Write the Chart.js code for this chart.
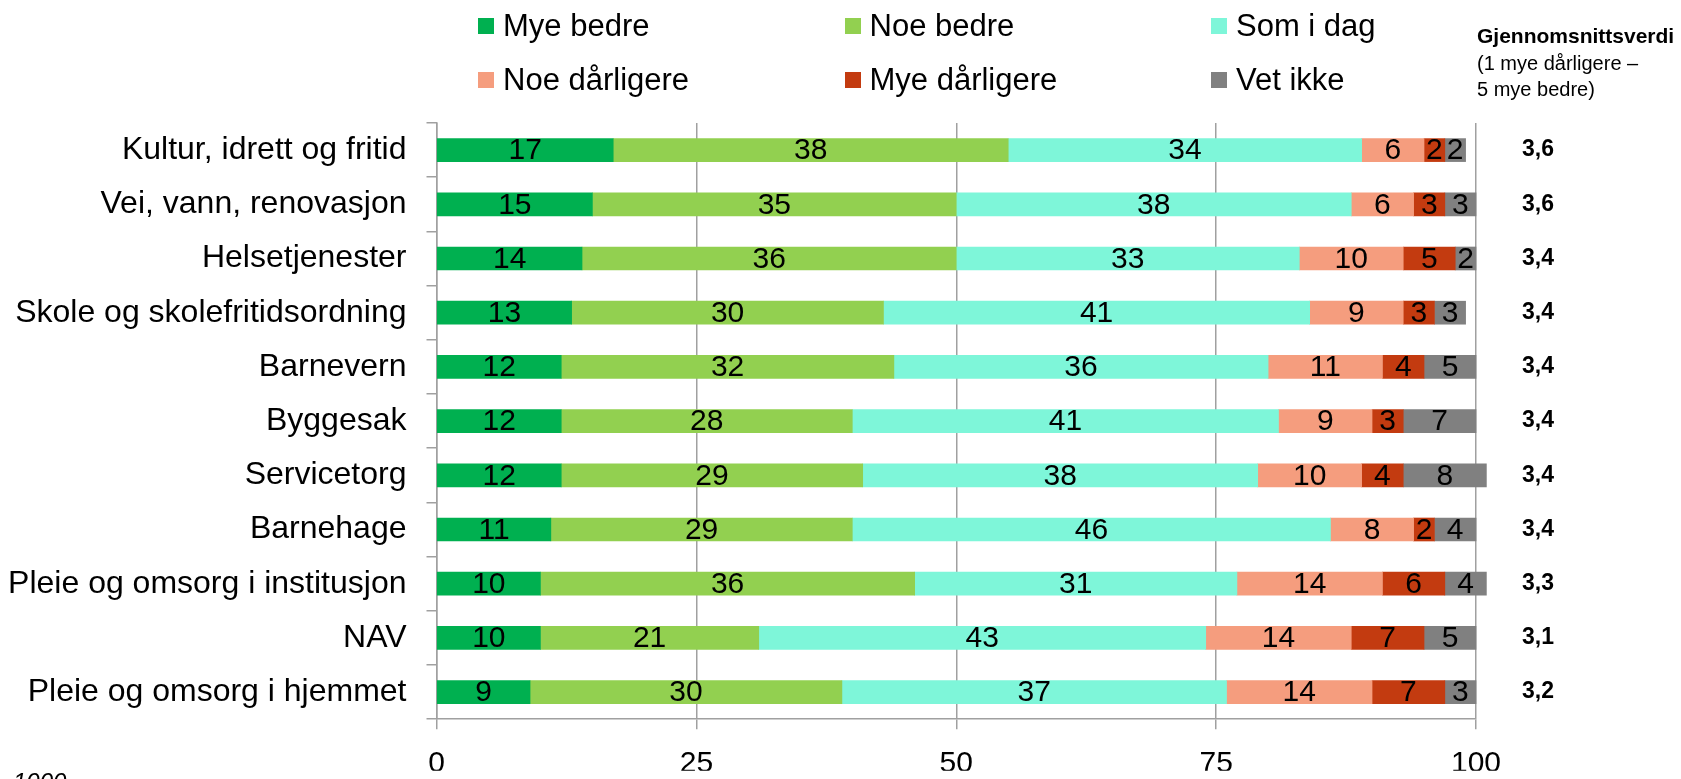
<!DOCTYPE html>
<html>
<head>
<meta charset="utf-8">
<script src="https://cdn.jsdelivr.net/npm/chart.js@4/dist/chart.umd.min.js"></script>
<style>
  html, body { margin:0; padding:0; background:#fff; overflow:hidden; }
  body { width:1681px; height:779px; position:relative; font-family:"Liberation Sans", Arial, sans-serif; }
  #wrap { position:absolute; left:0; top:0; width:1681px; height:779px; }
  .lg { position:absolute; height:40px; display:flex; align-items:center; font-size:31px; color:#000; white-space:nowrap; }
  .lg .box { width:16px; height:16px; margin-right:9px; flex:none; }
  #hdr { position:absolute; left:1477px; top:23px; line-height:26.5px; font-size:20px; color:#000; white-space:nowrap; }
  #hdr b { font-size:21px; }
  #note { position:absolute; left:13px; top:770px; font-size:24px; line-height:24px; font-style:italic; color:#000; }
</style>
</head>
<body>
<div id="wrap"><canvas id="c" width="1681" height="779"></canvas></div>
<div id="legend"></div>
<div id="hdr"><b>Gjennomsnittsverdi</b><br>(1 mye dårligere –<br>5 mye bedre)</div>
<div id="note">1000</div>
<script>
const categories = [
  "Kultur, idrett og fritid",
  "Vei, vann, renovasjon",
  "Helsetjenester",
  "Skole og skolefritidsordning",
  "Barnevern",
  "Byggesak",
  "Servicetorg",
  "Barnehage",
  "Pleie og omsorg i institusjon",
  "NAV",
  "Pleie og omsorg i hjemmet"
];
const seriesNames = ["Mye bedre", "Noe bedre", "Som i dag", "Noe dårligere", "Mye dårligere", "Vet ikke"];
const myeBedre      = [17, 15, 14, 13, 12, 12, 12, 11, 10, 10, 9];
const noeBedre      = [38, 35, 36, 30, 32, 28, 29, 29, 36, 21, 30];
const somIDag       = [34, 38, 33, 41, 36, 41, 38, 46, 31, 43, 37];
const noeDarligere  = [6, 6, 10, 9, 11, 9, 10, 8, 14, 14, 14];
const myeDarligere  = [2, 3, 5, 3, 4, 3, 4, 2, 6, 7, 7];
const vetIkke       = [2, 3, 2, 3, 5, 7, 8, 4, 4, 5, 3];
const averages      = ["3,6", "3,6", "3,4", "3,4", "3,4", "3,4", "3,4", "3,4", "3,3", "3,1", "3,2"];
const xTicks        = [0, 25, 50, 75, 100];
const colors = ["#00B050", "#92D050", "#7EF6D9", "#F59D7E", "#C33B10", "#808080"];

const seriesValues = [myeBedre, noeBedre, somIDag, noeDarligere, myeDarligere, vetIkke];

Chart.defaults.font.family = '"Liberation Sans", Arial, sans-serif';
Chart.defaults.color = '#000';

const valueLabels = {
  id: 'valueLabels',
  afterDatasetsDraw(chart) {
    const ctx = chart.ctx;
    ctx.save();
    ctx.font = '30px "Liberation Sans", Arial, sans-serif';
    ctx.fillStyle = '#000';
    ctx.textAlign = 'center';
    ctx.textBaseline = 'middle';
    chart.data.datasets.forEach((ds, i) => {
      const meta = chart.getDatasetMeta(i);
      meta.data.forEach((el, j) => {
        const v = ds.data[j];
        if (!v) return;
        const p = el.getProps(['x', 'y', 'base'], true);
        ctx.fillText(String(v), (p.x + p.base) / 2, p.y + 1);
      });
    });
    ctx.restore();
  }
};

const chart = new Chart(document.getElementById('c'), {
  type: 'bar',
  data: {
    labels: categories,
    datasets: seriesNames.map((name, i) => ({
      label: name,
      data: seriesValues[i],
      backgroundColor: colors[i],
      borderWidth: 0,
      barThickness: 23,
      clip: false
    }))
  },
  options: {
    indexAxis: 'y',
    responsive: false,
    animation: false,
    layout: { padding: { top: 123, left: 0, right: 0, bottom: 0 } },
    plugins: { legend: { display: false }, tooltip: { enabled: false } },
    scales: {
      x: {
        stacked: true,
        min: 0, max: 100,
        afterBuildTicks(s) { s.ticks = xTicks.map(v => ({ value: v })); },
        ticks: { font: { size: 30 }, color: '#000', padding: 17 },
        grid: { color: '#a0a0a0', lineWidth: 1.5, tickLength: 10, drawTicks: true },
        border: { color: '#a0a0a0', width: 1.5 },
        afterFit(s) { s.height = 51.5; }
      },
      y: {
        stacked: true,
        offset: true,
        grid: { offset: true, drawOnChartArea: false, tickLength: 10, color: '#a0a0a0', lineWidth: 1.5 },
        border: { color: '#a0a0a0', width: 1.5 },
        ticks: { font: { size: 32 }, color: '#000', padding: 20 },
        afterFit(s) { s.width = 436.5; }
      },
      y2: {
        type: 'category',
        labels: averages,
        position: 'right',
        offset: true,
        grid: { display: false, drawTicks: false },
        border: { display: false },
        ticks: { font: { size: 23, weight: 'bold' }, color: '#000', padding: 46 },
        afterFit(s) { s.width = 205; }
      }
    }
  },
  plugins: [valueLabels]
});

// HTML legend built from the chart's datasets (3 columns x 2 rows)
const legendEl = document.getElementById('legend');
const colX = [478, 844.5, 1211];
const rowY = [26, 80];
chart.data.datasets.forEach((ds, i) => {
  const item = document.createElement('div');
  item.className = 'lg';
  item.style.left = colX[i % 3] + 'px';
  item.style.top = (rowY[Math.floor(i / 3)] - 20) + 'px';
  const box = document.createElement('span');
  box.className = 'box';
  box.style.background = ds.backgroundColor;
  const txt = document.createElement('span');
  txt.textContent = ds.label;
  item.appendChild(box);
  item.appendChild(txt);
  legendEl.appendChild(item);
});
</script>
</body>
</html>
